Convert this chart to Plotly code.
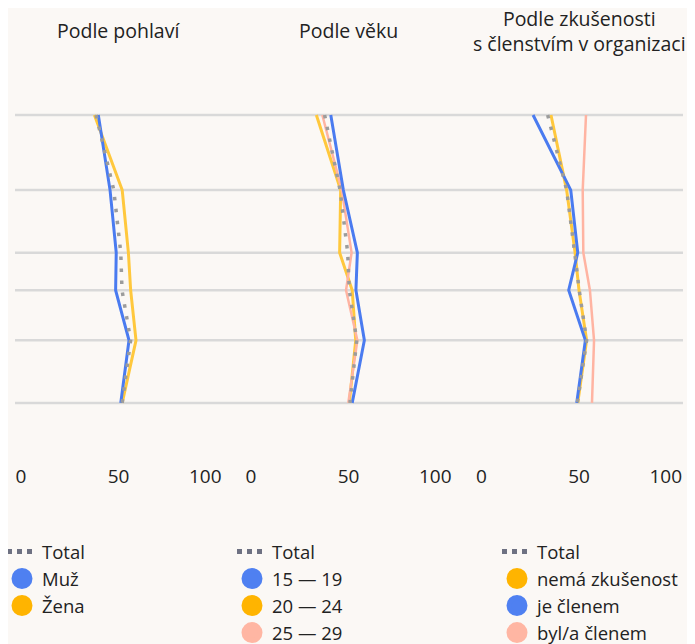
import plotly.graph_objects as go

# ---------------- data ----------------
rows = [0, 6, 11, 14, 18, 23]          # vertical position of each survey wave (axis hidden)
x_ticks = [0, 50, 100]

panel_titles = ["Podle pohlaví", "Podle věku", "Podle zkušenosti<br>s členstvím v organizaci"]

total_gender = [39.1, 47.7, 51.1, 51.7, 55.9, 51.8]
muz = [40.2, 45.9, 48.9, 48.6, 55.1, 51.1]
zena = [38.3, 51.8, 54.8, 55.9, 58.5, 51.8]

total_age = [38.4, 45.9, 49.6, 50.4, 54.0, 50.7]
age_15_19 = [41.4, 47.5, 54.3, 53.6, 57.7, 51.8]
age_20_24 = [34.4, 46.2, 45.7, 51.8, 53.5, 50.4]
age_25_29 = [37.3, 46.7, 51.5, 48.8, 54.3, 49.9]

total_org = [34.8, 44.0, 47.9, 50.1, 53.7, 49.2]
nema_zkusenost = [36.4, 44.0, 48.1, 50.0, 53.7, 49.4]
je_clenem = [27.7, 46.0, 49.4, 45.0, 53.1, 48.9]
byl_clenem = [53.4, 51.8, 52.1, 55.3, 57.3, 56.3]

# ---------------- styles ----------------
BG = "#fbf8f5"
GRID = "#d9d9d9"
TXT = "#222222"
FONT = "Open Sans"
LINE = {"blue": "#4a7bf0", "yellow": "#ffc83d", "pink": "#ffb4a2"}
DOT = {"blue": "#4f80f1", "yellow": "#ffb400", "pink": "#ffb6a3"}
TOTAL_LINE = "#9c9c9c"
TOTAL_LEG = "#6e7182"
DRAW_ORDER = {"yellow": 0, "pink": 1, "blue": 2}

panels = [
    dict(total=total_gender, legend="legend",
         series=[("Muž", muz, "blue"), ("Žena", zena, "yellow")]),
    dict(total=total_age, legend="legend2",
         series=[("15 — 19", age_15_19, "blue"), ("20 — 24", age_20_24, "yellow"),
                 ("25 — 29", age_25_29, "pink")]),
    dict(total=total_org, legend="legend3",
         series=[("nemá zkušenost", nema_zkusenost, "yellow"), ("je členem", je_clenem, "blue"),
                 ("byl/a členem", byl_clenem, "pink")]),
]

# The page adds an 8px body margin, so the figure is laid out in page pixels minus 8.
OFF = 8
W, H = 695 - OFF, 644 - OFF
def fx(px):  # page x -> figure x
    return px - OFF
def fy(py):
    return py - OFF

domains_page = [(15.5, 221.5), (245.5, 451.5), (476, 682)]
legend_left_page = [2, 232, 497]

top_px, bot_px = fy(100), fy(463.5)          # plot area (figure px)
row_top, row_bot = fy(115), fy(403.3)
plot_h = bot_px - top_px
px_per_unit = (row_bot - row_top) / (rows[-1] - rows[0])
y_top = rows[0] - (row_top - top_px) / px_per_unit
y_bot = rows[-1] + (bot_px - row_bot) / px_per_unit

def paper_y(py_fig):
    return (bot_px - py_fig) / plot_h

fig = go.Figure()

for i, p in enumerate(panels):
    xa = "x" if i == 0 else f"x{i+1}"
    xa_left = f"x{4+i}"
    xa_right = f"x{7+i}"
    for name, vals, col in sorted(p["series"], key=lambda s: DRAW_ORDER[s[2]]):
        fig.add_trace(go.Scatter(
            x=vals, y=rows, mode="lines", xaxis=xa, yaxis="y",
            line=dict(color=LINE[col], width=3 if col != "pink" else 2.5),
            showlegend=False, hoverinfo="skip"))
    fig.add_trace(go.Scatter(
        x=p["total"], y=rows, mode="lines", xaxis=xa, yaxis="y",
        line=dict(color=TOTAL_LINE, width=3.5, dash="3.5px,8.5px"),
        showlegend=False, hoverinfo="skip"))
    # legend entries (empty traces; also anchor the label-only overlay axes)
    fig.add_trace(go.Scatter(
        x=[None], y=[None], mode="lines", xaxis=xa_left, yaxis="y", name="Total",
        line=dict(color=TOTAL_LEG, width=5, dash="5px,5px"),
        legend=p["legend"], hoverinfo="skip"))
    for k, (name, vals, col) in enumerate(p["series"]):
        fig.add_trace(go.Scatter(
            x=[None], y=[None], mode="markers", xaxis=xa_right if k == 0 else xa, yaxis="y",
            name=name,
            marker=dict(size=16, color=DOT[col], line=dict(width=5, color=DOT[col])),
            legend=p["legend"], hoverinfo="skip"))

tickfont = dict(family=FONT, size=19, color=TXT)
layout = dict(
    width=W, height=H,
    paper_bgcolor=BG, plot_bgcolor=BG,
    margin=dict(l=0, r=0, t=top_px, b=H - bot_px, pad=0, autoexpand=False),
    font=dict(family=FONT, color=TXT),
    yaxis=dict(range=[y_bot, y_top], showticklabels=False, showgrid=False,
               zeroline=False, showline=False, fixedrange=True),
)

for i, (a, b) in enumerate(domains_page):
    dom = [fx(a) / W, fx(b) / W]
    main = "xaxis" if i == 0 else f"xaxis{i+1}"
    main_ref = "x" if i == 0 else f"x{i+1}"
    common = dict(range=[x_ticks[0], x_ticks[-1]], domain=dom, anchor="y",
                  showgrid=False, zeroline=False, showline=False, ticks="",
                  tickfont=tickfont, fixedrange=True)
    layout[main] = dict(common, tickvals=[x_ticks[1]], ticktext=[str(x_ticks[1])])
    layout[f"xaxis{4+i}"] = dict(common, overlaying=main_ref, tickvals=[x_ticks[0]],
                                 ticktext=[str(x_ticks[0])], ticklabelposition="outside right")
    layout[f"xaxis{7+i}"] = dict(common, overlaying=main_ref, tickvals=[x_ticks[-1]],
                                 ticktext=[str(x_ticks[-1])], ticklabelposition="outside left")

for i, p in enumerate(panels):
    key = "legend" if i == 0 else f"legend{i+1}"
    layout[key] = dict(
        xref="paper", yref="paper",
        x=fx(legend_left_page[i]) / W, y=paper_y(fy(533.5)),
        xanchor="left", yanchor="top", bgcolor="rgba(0,0,0,0)",
        font=dict(family=FONT, size=18.5, color=TXT), traceorder="normal",
        itemclick=False, itemdoubleclick=False, tracegroupgap=0)

fig.update_layout(**layout)

# horizontal guide lines across all panels
for r in rows:
    fig.add_shape(type="line", xref="paper", yref="y", x0=fx(15) / W, x1=fx(683) / W,
                  y0=r, y1=r, line=dict(color=GRID, width=2.5), layer="below")

# panel titles
for i, t in enumerate(panel_titles):
    xr = "x domain" if i == 0 else f"x{i+1} domain"
    fig.add_annotation(text=t, xref=xr, x=0.5, yref="paper",
                       y=paper_y(fy(30.5)), xanchor="center", yanchor="middle",
                       showarrow=False, font=dict(family=FONT, size=19.5, color=TXT))

fig.write_html("out.html")
